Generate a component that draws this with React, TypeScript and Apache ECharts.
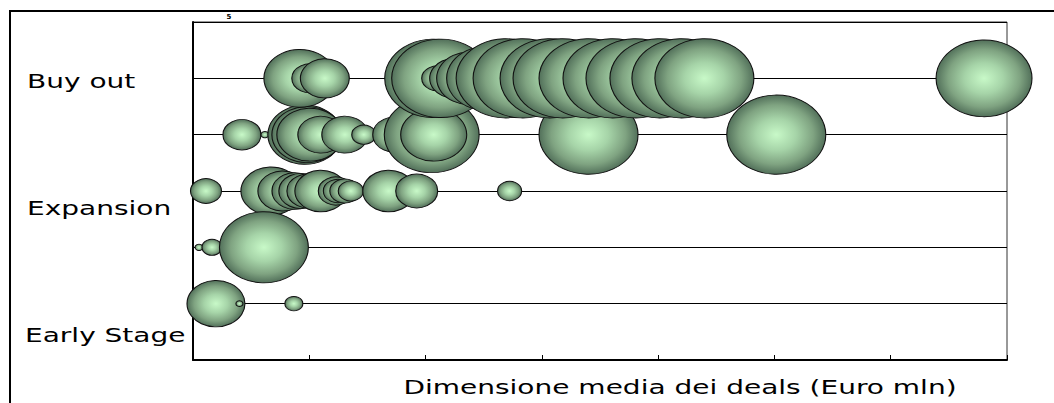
import React, { useEffect, useRef } from "react";
import * as echarts from "echarts";

// Category labels (left side) and texts
const yCategoryLabels = ["Buy out", "Expansion", "Early Stage"];
const xAxisTitle = "Dimensione media dei deals (Euro mln)";
const strayTickLabel = "5";

// Axis ranges
const xMin = 0;
const xMax = 350;
const xInterval = 50;
const yMin = 0;
const yMax = 6;
const yInterval = 1;

// Row levels on the y axis
const rowLevels = [5, 4, 3, 2, 1];

// Row 5 (top line): average deal size and bubble value
const row5X = [45.95, 50.24, 56.69, 103.5, 106.5, 105.0, 112.51, 118.96, 126.26, 134.42, 141.72, 153.32, 158.89, 170.06, 180.37, 190.25, 200.55, 210.0, 219.88, 340.12];
const row5V = [51.8, 13, 24, 96, 96, 9.6, 25, 43.6, 64, 98, 98, 98, 98, 98, 98, 98, 98, 98, 98, 92];

// Row 4
const row4X = [21.04, 30.92, 48.1, 48.96, 50.24, 54.97, 65.28, 73.44, 86.75, 102.64, 103.5, 170.06, 250.79];
const row4V = [14.4, 0.64, 54.8, 49, 43.6, 21.2, 21.2, 5.8, 19.4, 90, 43.6, 98, 98];

// Row 3
const row3X = [5.58, 33.5, 38.65, 43.8, 46.38, 49.39, 54.97, 61.41, 62.27, 65.28, 67.85, 84.17, 96.19, 136.13];
const row3V = [9.6, 36, 25, 21, 19.4, 17.6, 27, 12.3, 8.4, 9, 6.3, 27, 17.6, 5.8];

// Row 2
const row2X = [2.58, 8.16, 30.49];
const row2V = [0.64, 4, 79];

// Row 1
const row1X = [9.88, 19.97, 43.37];
const row1V = [33.6, 0.5, 3.2];

const rows = [
  { level: rowLevels[2], xs: row3X, vs: row3V },
  { level: rowLevels[3], xs: row2X, vs: row2V },
  { level: rowLevels[4], xs: row1X, vs: row1V },
  { level: rowLevels[1], xs: row4X, vs: row4V },
  { level: rowLevels[0], xs: row5X, vs: row5V },
];

export default function App() {
  const ref = useRef<HTMLDivElement>(null);

  useEffect(() => {
    if (!ref.current) return;
    const chart = echarts.init(ref.current, undefined, { renderer: "svg" });

    const bubbleFill = new echarts.graphic.RadialGradient(0.5, 0.5, 0.5, [
      { offset: 0, color: "#c8f9c8" },
      { offset: 0.4, color: "#a6d4a8" },
      { offset: 0.75, color: "#7fa381" },
      { offset: 1, color: "#52705a" },
    ]);

    const series = rows.map((r, i) => ({
      type: "scatter",
      name: "row" + i,
      clip: false,
      data: r.xs.map((x, k) => [x, r.level, r.vs[k]]),
      symbol: "circle",
      symbolSize: (val: number[]) => {
        const w = 10 * Math.sqrt(val[2]);
        return [w, w * 0.8];
      },
      itemStyle: {
        color: bubbleFill,
        borderColor: "#111",
        borderWidth: 1,
        opacity: 1,
      },
      emphasis: { disabled: true },
      z: 2 + i,
    }));

    const textBase = {
      fontFamily: "DejaVu Sans",
      fontSize: 20,
      fill: "#000",
    };

    chart.setOption({
      animation: false,
      backgroundColor: "#fff",
      grid: {
        left: 193,
        top: 22,
        right: 47,
        bottom: 43,
        show: true,
        borderColor: "#333",
        borderWidth: 1,
        backgroundColor: "transparent",
      },
      xAxis: {
        type: "value",
        min: xMin,
        max: xMax,
        interval: xInterval,
        axisLine: { show: true, lineStyle: { color: "#000", width: 2 } },
        axisTick: { show: true, inside: true, length: 5, lineStyle: { color: "#000", width: 1 } },
        axisLabel: { show: false },
        splitLine: { show: false },
      },
      yAxis: {
        type: "value",
        min: yMin,
        max: yMax,
        interval: yInterval,
        axisLine: { show: true, lineStyle: { color: "#000", width: 2 } },
        axisTick: { show: false },
        axisLabel: { show: false },
        splitLine: { show: true, lineStyle: { color: "#000", width: 1 } },
      },
      series,
      graphic: [
        {
          type: "rect",
          silent: true,
          z: 100,
          shape: { x: 10, y: 11, width: 1200, height: 600 },
          style: { fill: "none", stroke: "#000", lineWidth: 2 },
        },
        {
          type: "text",
          x: 27,
          y: 81,
          scaleX: 1.4,
          style: { ...textBase, text: yCategoryLabels[0], verticalAlign: "middle", align: "left" },
        },
        {
          type: "text",
          x: 27,
          y: 208,
          scaleX: 1.4,
          style: { ...textBase, text: yCategoryLabels[1], verticalAlign: "middle", align: "left" },
        },
        {
          type: "text",
          x: 25,
          y: 335,
          scaleX: 1.4,
          style: { ...textBase, text: yCategoryLabels[2], verticalAlign: "middle", align: "left" },
        },
        {
          type: "text",
          x: 680,
          y: 387,
          scaleX: 1.4,
          style: { ...textBase, text: xAxisTitle, verticalAlign: "middle", align: "center" },
        },
        {
          type: "text",
          x: 229,
          y: 17,
          style: { fontFamily: "DejaVu Sans", fontSize: 7, fontWeight: "bold", fill: "#000", text: strayTickLabel, verticalAlign: "middle", align: "center" },
        },
      ],
    });

    return () => chart.dispose();
  }, []);

  return (
    <div
      ref={ref}
      style={{ position: "absolute", left: 0, top: 0, width: 1054, height: 403, background: "#fff" }}
    />
  );
}
